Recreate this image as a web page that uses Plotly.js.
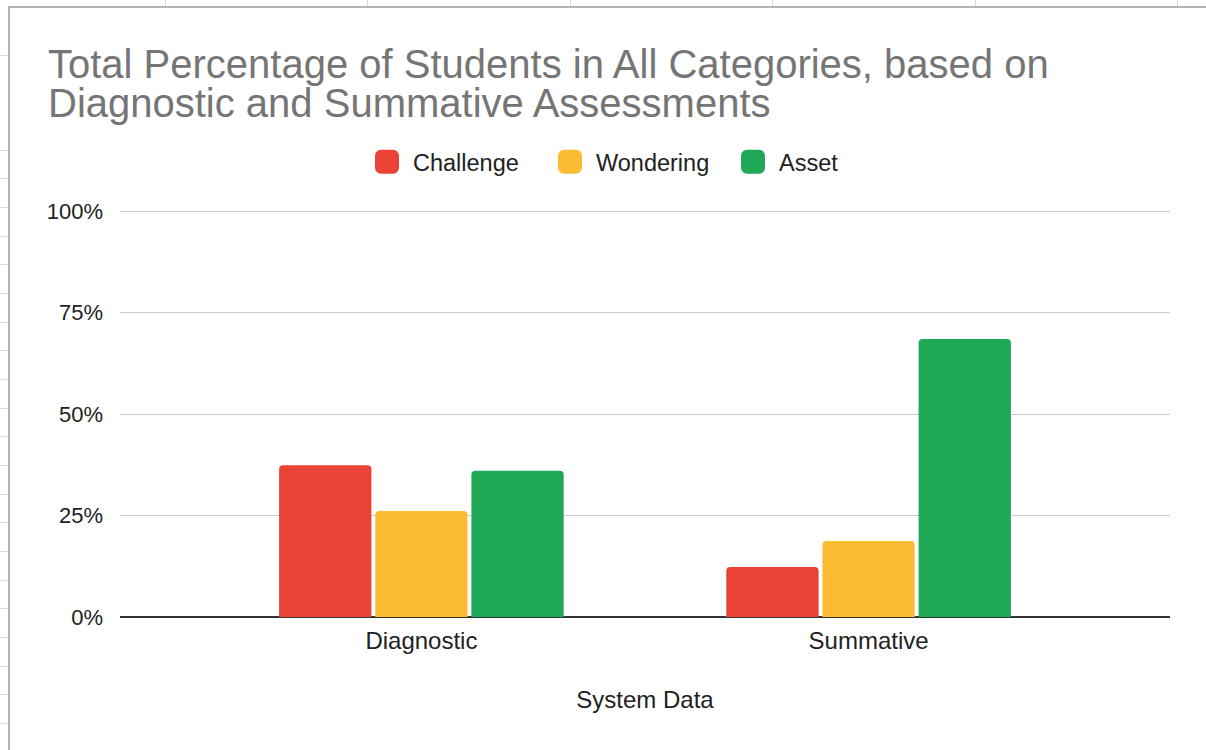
<!DOCTYPE html>
<html>
<head>
<meta charset="utf-8">
<script src="https://cdn.plot.ly/plotly-3.0.1.min.js"></script>
<style>
  html, body { margin: 0; padding: 0; background: #fff; }
  #wrap { position: relative; width: 1206px; height: 750px; overflow: hidden; }
  #chart { position: absolute; left: 0; top: 0; width: 1206px; height: 750px; }
  #frame { position: absolute; left: 8px; top: 6px; width: 1198px; height: 744px;
           border-left: 2px solid #b4b4b4; border-top: 2px solid #b4b4b4; pointer-events: none; }
  .vl { position: absolute; top: 0; width: 1px; height: 6px; background: #dadada; }
  .hl { position: absolute; left: 0; width: 8px; height: 1px; background: #dadada; }
  #chart .legend .legendpoints path { transform: translate(26px, 0px) scale(2); }
</style>
</head>
<body>
<div id="wrap">
  <div id="chart"></div>
  <div id="frame"></div>
  <div class="vl" style="left:165px"></div>
  <div class="vl" style="left:367px"></div>
  <div class="vl" style="left:570px"></div>
  <div class="vl" style="left:772px"></div>
  <div class="vl" style="left:975px"></div>
  <div class="vl" style="left:1177px"></div>
  <div class="hl" style="top:55px"></div>
  <div class="hl" style="top:150px"></div>
  <div class="hl" style="top:178px"></div>
  <div class="hl" style="top:207px"></div>
  <div class="hl" style="top:236px"></div>
  <div class="hl" style="top:264px"></div>
  <div class="hl" style="top:293px"></div>
  <div class="hl" style="top:322px"></div>
  <div class="hl" style="top:350px"></div>
  <div class="hl" style="top:379px"></div>
  <div class="hl" style="top:408px"></div>
  <div class="hl" style="top:436px"></div>
  <div class="hl" style="top:465px"></div>
  <div class="hl" style="top:494px"></div>
  <div class="hl" style="top:522px"></div>
  <div class="hl" style="top:551px"></div>
  <div class="hl" style="top:580px"></div>
  <div class="hl" style="top:608px"></div>
  <div class="hl" style="top:637px"></div>
  <div class="hl" style="top:666px"></div>
  <div class="hl" style="top:694px"></div>
  <div class="hl" style="top:723px"></div>
</div>
<script>
const categories = ["Diagnostic", "Summative"];
const seriesNames = ["Challenge", "Wondering", "Asset"];
const challenge = [0.374, 0.123];
const wondering = [0.261, 0.187];
const asset = [0.360, 0.685];
const seriesColors = ["#ea4335", "#fbbc34", "#1fa855"];
const yTickVals = [0, 0.25, 0.5, 0.75, 1];
const yTickText = ["0%", "25%", "50%", "75%", "100%"];
const titleLines = [
  "Total Percentage of Students in All Categories, based on",
  "Diagnostic and Summative Assessments"
];
const xTitle = "System Data";

const values = [challenge, wondering, asset];
const traces = seriesNames.map((name, i) => ({
  type: "bar",
  name: name,
  x: categories,
  y: values[i],
  marker: { color: seriesColors[i], cornerradius: 4, line: { width: 0 } },
  hoverinfo: "x+y+name"
}));

const font = "Liberation Sans, Arial, sans-serif";
const yMax = 1.01;
const plotBottom = 617, plotLeft = 120, plotRight = 1170;
const pxPerUnit = 406;
const plotTop = plotBottom - pxPerUnit * yMax;
const toPaperY = py => (plotBottom - py) / (plotBottom - plotTop);
const toPaperX = px => (px - plotLeft) / (plotRight - plotLeft);

const layout = {
  width: 1206,
  height: 750,
  margin: { l: plotLeft, r: 1206 - plotRight, t: plotTop, b: 750 - plotBottom, pad: 0 },
  paper_bgcolor: "#ffffff",
  plot_bgcolor: "#ffffff",
  font: { family: font, color: "#222222", size: 22 },
  annotations: titleLines.map((t, i) => ({
    text: t,
    xref: "paper", yref: "paper",
    x: toPaperX(46), xanchor: "left",
    y: toPaperY(i === 0 ? 64 : 103), yanchor: "middle",
    showarrow: false,
    font: { family: font, size: 40, color: "#757575" }
  })),
  showlegend: true,
  legend: {
    orientation: "h",
    x: 361 / 1206, xref: "container", xanchor: "left",
    y: 1 - 162 / 750, yref: "container", yanchor: "middle",
    font: { family: font, size: 23.5, color: "#222222" },
    itemwidth: 42,
    entrywidth: 126,
    entrywidthmode: "pixels",
    itemclick: false
  },
  barmode: "group",
  bargap: 0.355,
  bargroupgap: 0.04,
  xaxis: {
    type: "category",
    range: [-0.674, 1.674],
    showgrid: false,
    showline: false,
    ticks: "",
    tickfont: { family: font, size: 24, color: "#222222" },
    ticklabelstandoff: 7,
    title: { text: xTitle, font: { family: font, size: 24, color: "#222222" }, standoff: 38 }
  },
  yaxis: {
    range: [0, yMax],
    tickvals: yTickVals,
    ticktext: yTickText,
    showgrid: true,
    gridcolor: "#cccccc",
    gridwidth: 1,
    zeroline: true,
    zerolinecolor: "#333333",
    zerolinewidth: 2,
    showline: false,
    ticks: "",
    tickfont: { family: font, size: 22, color: "#222222" },
    ticklabelstandoff: 16
  }
};

Plotly.newPlot("chart", traces, layout, { displayModeBar: false });
</script>
</body>
</html>
